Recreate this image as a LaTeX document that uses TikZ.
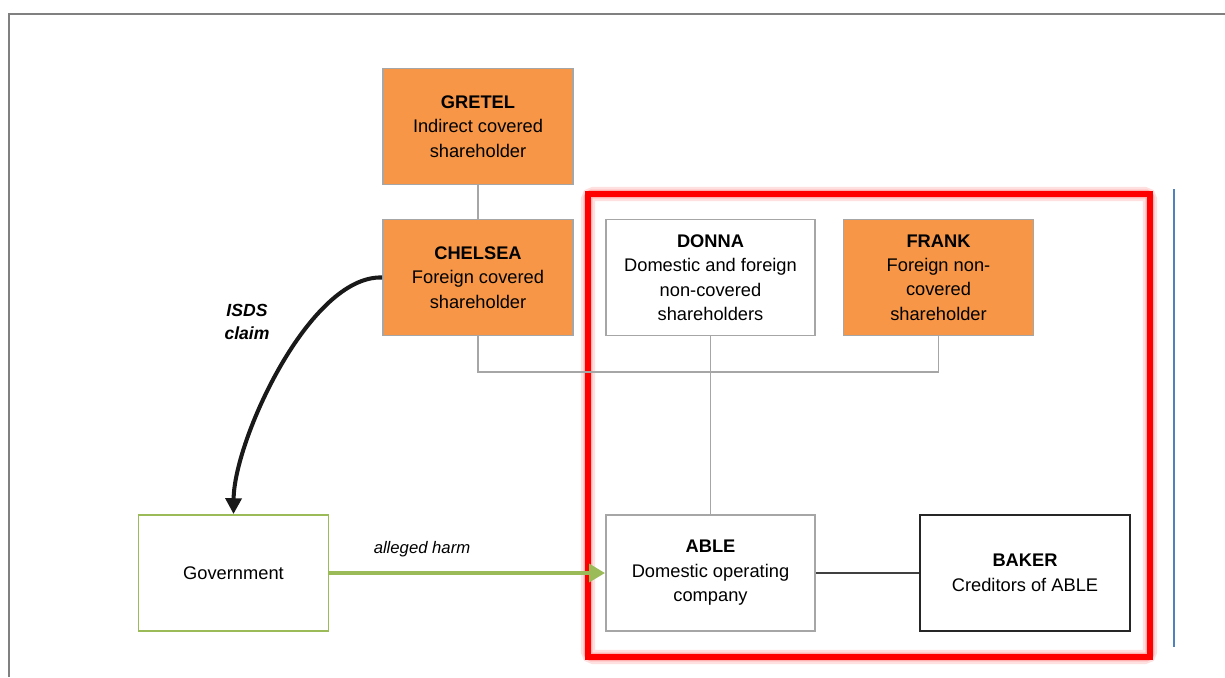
\documentclass[tikz,border=0pt]{standalone}
\usepackage{fontspec}
\setmainfont{Liberation Sans}
\usepackage{xcolor}
\usepackage{tikz}
\usetikzlibrary{arrows.meta,positioning}

\definecolor{boxorange}{HTML}{F79646}
\definecolor{boxgreen}{HTML}{9BBB59}
\definecolor{boxgray}{HTML}{A6A6A6}
\definecolor{framegray}{HTML}{808080}
\definecolor{lineblue}{HTML}{4F81BD}

\begin{document}
\begin{tikzpicture}[
    x = 0.02cm, y = -0.02cm,
    party/.style={
        rectangle, % shape
        minimum width = 3.8cm, minimum height = 2.32cm, %size
        line width = 1.1pt, %border
        draw = boxgray,
        align = center,
        font = \fontsize{10.4}{13.9}\selectfont %font
      },
    covered/.style={party, fill = boxorange},%the filling
    noncovered/.style={party, fill = white, minimum width = 4.18cm},
    link/.style={draw = boxgray, line width = 1.1pt}
  ]
  \useasboundingbox (0,0) rectangle (1225,677);
  % outer frame
  \draw[framegray, line width = 1.2pt] (9,677) -- (9,14) -- (1225,14);
  \draw[lineblue, line width = 0.8pt] (1174,189) -- (1174,647);
  % red box round the company, with a soft glow
  \draw[red!12, line width = 8pt, rounded corners = 3pt] (588,194) rectangle (1150,657);
  \draw[red!30, line width = 5pt, rounded corners = 2pt] (588,194) rectangle (1150,657);
  \draw[red, line width = 3pt] (588,194) rectangle (1150,657);

  \node [covered] (gretel) at (478,126.5) {\textbf{GRETEL}\\Indirect covered\\shareholder};
  \node [covered] (chelsea) at (478,277.5) {\textbf{CHELSEA}\\Foreign covered\\shareholder};
  \node [noncovered] (donna) at (710.5,277.5) {\textbf{DONNA}\\Domestic and foreign\\non-covered\\shareholders};
  \node [covered] (frank) at (938.5,277.5) {\textbf{FRANK}\\Foreign non-\\covered\\shareholder};
  \node [noncovered] (able) at (710.5,573) {\textbf{ABLE}\\Domestic operating\\company};
  \node [party, draw = black!85, minimum width = 4.2cm] (baker) at (1025,573) {\textbf{BAKER}\\Creditors of ABLE};
  \node [party, draw = boxgreen] (gov) at (233.5,573) {Government};

  % shareholdings
  \coordinate (bus) at (710.5,372);
  \draw [link] (gretel) -- (chelsea);
  \draw [link] (chelsea.south) |- (bus) -| (frank.south);
  \draw [link] (donna) -- (able);
  \draw [draw = black!75, line width = 1.1pt] (able) -- (baker);

  % claim and harm
  \draw [-{Triangle[length=9pt,width=9pt]}, line width = 2.3pt, black!90]
    (chelsea.west) .. controls (310,275) and (234,440) .. (gov.north);
  \node [font = \bfseries\itshape\fontsize{10}{13.5}\selectfont, align = center] (isds) at (247,322) {ISDS\\claim};
  \draw [-{Triangle[length=9pt,width=10pt]}, line width = 2.2pt, boxgreen] (gov) -- (able);
  \node [font = \itshape\fontsize{9.5}{11}\selectfont] (harm) at (422,549) {alleged harm};
\end{tikzpicture}
\end{document}
